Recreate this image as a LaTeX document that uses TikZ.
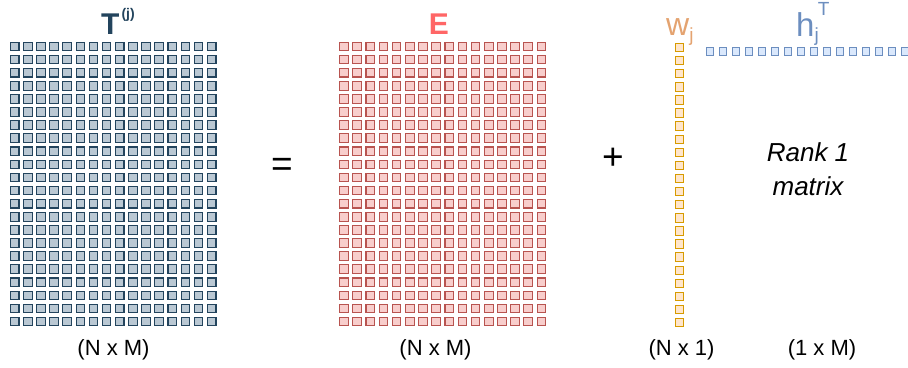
\documentclass[tikz,border=0pt]{standalone}
\usepackage{fontspec}
\setmainfont{Liberation Sans}
\usetikzlibrary{positioning}
\definecolor{tfill}{HTML}{BAC8D3}
\definecolor{tline}{HTML}{23445D}
\definecolor{efill}{HTML}{F8CECC}
\definecolor{eline}{HTML}{B85450}
\definecolor{elabel}{HTML}{FF6666}
\definecolor{wfill}{HTML}{FFE6CC}
\definecolor{wline}{HTML}{D79B00}
\definecolor{wlabel}{RGB}{228,163,112}
\definecolor{hfill}{HTML}{DAE8FC}
\definecolor{hline}{HTML}{6C8EBF}

\begin{document}
\begin{tikzpicture}[x=1pt,y=-1pt,
  cell/.style={draw,line width=1.1pt,inner sep=0pt,minimum size=8.6pt},
  tcell/.style={cell,draw=tline,fill=tfill},
  ecell/.style={cell,draw=eline,fill=efill},
  wcell/.style={cell,line width=1pt,minimum size=8.4pt,draw=wline,fill=wfill},
  hcell/.style={cell,line width=1pt,minimum size=7.8pt,draw=hline,fill=hfill},
  dimlbl/.style={anchor=base,inner sep=0pt,font=\fontsize{22}{26}\selectfont},
  oplbl/.style={anchor=base,inner sep=0pt,font=\fontsize{37}{40}\selectfont}]
  \useasboundingbox (0,0) rectangle (908,367);

  % the two N x M matrices and the column vector
  \foreach \r in {0,...,21}{
    \foreach \c in {0,...,15}{
      \node[tcell] (t-\r-\c) at ({14.7+13.13*\c},{46.5+13.1*\r}) {};
      \node[ecell] (e-\r-\c) at ({344+13.16*\c},{46.5+13.1*\r}) {};
    }
    \node[wcell] (w-\r) at (679.5,{47.5+13.1*\r}) {};
  }
  % the row vector
  \foreach \c in {0,...,15}
    \node[hcell] (h-\c) at ({710+13*\c},51.2) {};

  \node[anchor=base west,inner sep=0pt,text=tline,
        font=\fontsize{30}{30}\selectfont\bfseries] (tname) at (101,34.5)
    {T\hspace{2pt}\raisebox{16pt}{\fontsize{14}{14}\selectfont (j)}};
  \node[anchor=base,inner sep=0pt,text=elabel,
        font=\fontsize{30}{30}\selectfont\bfseries] (ename) at (439,34.5) {E};
  \node[anchor=base west,inner sep=0pt,text=wlabel,
        font=\fontsize{32}{32}\selectfont] (wname) at (666,35)
    {w\raisebox{-6pt}{\fontsize{19}{19}\selectfont j}};
  \node[anchor=base west,inner sep=0pt,text=hline,
        font=\fontsize{33}{34}\selectfont] (hname) at (796,36)
    {h\raisebox{-5pt}{\fontsize{19}{19}\selectfont j}\hspace{-1pt}\raisebox{21pt}{\fontsize{19}{19}\selectfont T}};

  \node[oplbl] (eq)   at (282,176.5) {=};
  \node[oplbl] (plus) at (613,169) {+};
  \node[inner sep=0pt,align=center,
        font=\fontsize{26}{34}\selectfont\itshape] (rank) at (808,169.5)
    {Rank 1\\matrix};

  \node[dimlbl] (tdim) at (113.5,355) {(N x M)};
  \node[dimlbl] (edim) at (435.5,355) {(N x M)};
  \node[dimlbl] (wdim) at (681.5,355) {(N x 1)};
  \node[dimlbl] (hdim) at (822,355)   {(1 x M)};
\end{tikzpicture}
\end{document}
